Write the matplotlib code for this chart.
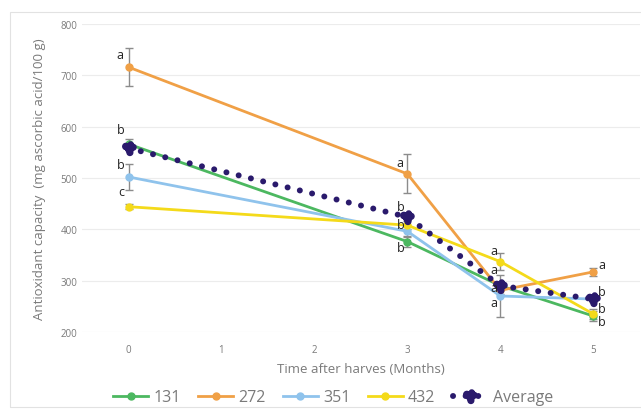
import matplotlib
matplotlib.use("Agg")
import matplotlib.pyplot as plt
from matplotlib.path import Path
from matplotlib.patches import Rectangle

plt.rcParams['font.family'] = ['Open Sans', 'DejaVu Sans']

months = [0, 3, 4, 5]

v131 = [566, 376, 290, 231]
v272 = [716, 508, 281, 317]
v351 = [502, 396, 270, 264]
v432 = [444, 408, 337, 235]
avg = [558, 424, 290, 264]

e131 = [9, 10, 8, 9]
e272 = [37, 38, 8, 8]
e351 = [26, 12, 40, 6]
e432 = [5, 8, 17, 10]

# significance letters: (x, y, text)
letters = [
    (-0.09, 741, "a"), (-0.08, 595, "b"), (-0.08, 527, "b"), (-0.08, 474, "c"),
    (2.92, 531, "a"), (2.93, 445, "b"), (2.93, 410, "b"), (2.93, 365, "b"),
    (3.93, 358, "a"), (3.93, 322, "a"), (3.93, 286, "a"), (3.93, 257, "a"),
    (5.09, 332, "a"), (5.09, 279, "b"), (5.09, 246, "b"), (5.09, 220, "b"),
]

colors = {"131": "#4cb860", "272": "#f0a046", "351": "#8fc3ec", "432": "#f4da1a"}
navy = "#2a1a6c"
grey = "#8c8c8c"

# lumpy marker used for the average series
blob = Path.make_compound_path(
    Path.circle((0, 0), 1.0),
    Path.circle((-0.9, 0.5), 0.75),
    Path.circle((0.9, 0.3), 0.7),
    Path.circle((0.1, -1.0), 0.7),
    Path.circle((0.3, 1.0), 0.6),
)

fig = plt.figure(figsize=(6.41, 4.10), dpi=100)
fig.patches.append(Rectangle((10 / 641, 2 / 410), 640 / 641, 395 / 410, transform=fig.transFigure,
                             fill=False, edgecolor="#e2e2e2", linewidth=0.8))
ax = fig.add_axes([0.128, 0.188, 0.870, 0.751])

series = [("131", v131, e131), ("272", v272, e272), ("351", v351, e351), ("432", v432, e432)]
for name, vals, errs in series:
    ax.errorbar(months, vals, yerr=errs, fmt="none", ecolor=grey, elinewidth=1, capsize=3, zorder=2)
    ax.plot(months, vals, color=colors[name], linewidth=2, marker="o", markersize=5, label=name, zorder=3)

ax.plot(months, avg, color=navy, linewidth=4.3, linestyle=(0, (0.01, 2.1)), dash_capstyle="round",
        marker=blob, markersize=10, label="Average", zorder=4)

for x, y, t in letters:
    ax.text(x, y, t, fontsize=9, color="#222222", ha="center", va="center", zorder=5)

ax.set_xlim(-0.5, 5.5)
ax.set_ylim(200, 800)
ax.set_xticks(range(6))
ax.set_yticks(range(200, 801, 100))
ax.tick_params(length=0, labelsize=7, colors="#7a7a7a")
ax.tick_params(axis="x", pad=9)
ax.grid(axis="y", color="#ececec", linewidth=0.8)
ax.set_axisbelow(True)
for s in ax.spines.values():
    s.set_visible(False)

ax.set_xlabel("Time after harves (Months)", fontsize=9.5, color="#7a7a7a", labelpad=5)
ax.set_ylabel("Antioxidant capacity  (mg ascorbic acid/100 g)", fontsize=9.5, color="#7a7a7a", labelpad=10)

ax.legend(loc="upper center", bbox_to_anchor=(0.45, -0.14), ncol=5, frameon=False, fontsize=11.5,
          labelcolor="#7a7a7a", handlelength=2.2, handletextpad=0.3, columnspacing=1.1)

fig.savefig("out.png", dpi=100)
